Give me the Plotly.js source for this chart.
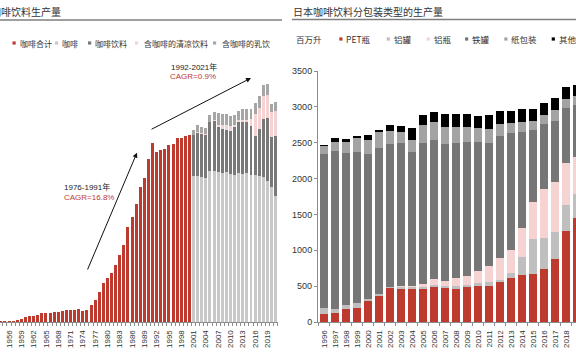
<!DOCTYPE html>
<html><head><meta charset="utf-8">
<script src="https://cdn.plot.ly/plotly-3.0.1.min.js"></script>
<style>html,body{margin:0;padding:0;background:#fff;overflow:hidden}#chart{width:576px;height:356px}</style>
</head><body><div id="chart"></div>
<script>
// ---- Left chart: 咖啡饮料生产量 ----
const totalYears = [1954,1955,1956,1957,1958,1959,1960,1961,1962,1963,1964,1965,1966,1967,1968,1969,1970,1971,1972,1973,1974,1975,1976,1977,1978,1979,1980,1981,1982,1983,1984,1985,1986,1987,1988,1989,1990,1991,1992,1993,1994,1995,1996,1997,1998,1999,2000];
const totalValues = [8,10,15,20,30,45,63,77,86,104,128,132,132,142,146,156,170,170,170,184,160,174,234,309,425,546,615,690,797,936,1075,1321,1460,1646,1878,2003,2273,2496,2365,2399,2407,2468,2477,2561,2561,2594,2602];
const stackYears = [2001,2002,2003,2004,2005,2006,2007,2008,2009,2010,2011,2012,2013,2014,2015,2016,2017,2018,2019,2020,2021];
const coffee = [2041,2030,2017,2005,2110,2100,2090,2080,2090,2065,2055,2075,2065,2075,2055,2055,2041,2017,1971,1880,1762];
const coffeeDrink = [571,605,604,603,673,707,624,611,592,603,659,708,718,708,685,543,650,814,869,704,828];
const coolDrink = [0,15,15,15,10,15,35,50,60,60,30,30,40,30,90,300,300,320,320,340,350];
const milkDrink = [69,101,87,82,97,101,160,159,158,149,146,129,142,157,145,155,155,153,153,116,122];
const leftNames = ['咖啡合计','咖啡','咖啡饮料','含咖啡的清凉饮料','含咖啡的乳饮'];

// ---- Right chart: 日本咖啡饮料分包装类型的生产量 (百万升) ----
const pkgYears = [1996,1997,1998,1999,2000,2001,2002,2003,2004,2005,2006,2007,2008,2009,2010,2011,2012,2013,2014,2015,2016,2017,2018,2019];
const pet = [116,130,176,190,288,362,469,455,455,460,483,469,455,483,506,501,562,613,650,669,734,873,1263,1444];
const alCan = [74,56,56,70,28,33,18,32,28,23,28,32,46,28,33,56,28,70,256,487,441,381,366,339];
const alBottle = [0,0,0,0,0,0,0,14,18,51,83,75,107,125,176,223,306,324,403,520,678,692,595,519];
const steelCan = [2155,2205,2126,2117,2033,2034,1993,1993,1867,1969,1941,1913,1890,1871,1797,1718,1695,1630,1342,999,905,863,762,721];
const paper = [111,121,159,182,186,218,190,153,167,241,247,232,228,219,195,200,167,135,140,130,130,149,130,135];
const other = [19,47,33,36,74,28,79,83,172,149,148,186,181,176,167,195,186,177,186,172,163,172,158,148];
const rightNames = ['PET瓶','铝罐','铝瓶','铁罐','纸包装','其他'];

const RED='#BE3A2E', LGRAY='#C8C8C8', DGRAY='#787878', PINK='#F4D3D2', MGRAY='#A6A6A6', BLACK='#000000';
const leftColors=[RED,LGRAY,DGRAY,PINK,MGRAY];
const rightColors=[RED,'#BFBFBF',PINK,'#767676','#A3A3A3',BLACK];

const FONT='Liberation Sans, Arial, Noto Sans CJK SC, sans-serif';
const CJK='Noto Sans CJK SC, sans-serif';

function bar(x,y,color,xa,ya,name,w){
  return {type:'bar',x:x,y:y,name:name,marker:{color:color,line:{width:0}},width:w,xaxis:xa,yaxis:ya,showlegend:false,hoverinfo:'skip'};
}
const traces=[
  bar(totalYears,totalValues,RED,'x','y',leftNames[0],0.72),
  bar(stackYears,coffee,LGRAY,'x','y',leftNames[1],0.72),
  bar(stackYears,coffeeDrink,DGRAY,'x','y',leftNames[2],0.72),
  bar(stackYears,coolDrink,PINK,'x','y',leftNames[3],0.72),
  bar(stackYears,milkDrink,MGRAY,'x','y',leftNames[4],0.72),
  bar(pkgYears,pet,rightColors[0],'x2','y2',rightNames[0],0.7),
  bar(pkgYears,alCan,rightColors[1],'x2','y2',rightNames[1],0.7),
  bar(pkgYears,alBottle,rightColors[2],'x2','y2',rightNames[2],0.7),
  bar(pkgYears,steelCan,rightColors[3],'x2','y2',rightNames[3],0.7),
  bar(pkgYears,paper,rightColors[4],'x2','y2',rightNames[4],0.7),
  bar(pkgYears,other,rightColors[5],'x2','y2',rightNames[5],0.7)
];

const PH=251, PB=322; // plot area pixel helpers for paper coords
const py=p=>(PB-p)/PH, px=p=>p/576;

const annotations=[
  {text:'咖啡饮料生产量',x:px(-11),y:py(11.5),xref:'paper',yref:'paper',xanchor:'left',yanchor:'middle',showarrow:false,font:{family:CJK,size:10,color:'#333'}},
  {text:'日本咖啡饮料分包装类型的生产量',x:px(291),y:py(11.5),xref:'paper',yref:'paper',xanchor:'left',yanchor:'middle',showarrow:false,font:{family:CJK,size:10,color:'#333'}},
  {text:'百万升',x:px(294),y:py(39),xref:'paper',yref:'paper',xanchor:'left',yanchor:'middle',showarrow:false,font:{family:CJK,size:8.5,color:'#333'}},
  {text:'1976-1991年',x:px(62),y:py(187),xref:'paper',yref:'paper',xanchor:'left',yanchor:'middle',showarrow:false,font:{family:FONT,size:8,color:'#222'}},
  {text:'CAGR=16.8%',x:px(62),y:py(197),xref:'paper',yref:'paper',xanchor:'left',yanchor:'middle',showarrow:false,font:{family:FONT,size:8,color:RED}},
  {text:'1992-2021年',x:px(169),y:py(67),xref:'paper',yref:'paper',xanchor:'left',yanchor:'middle',showarrow:false,font:{family:FONT,size:8,color:'#222'}},
  {text:'CAGR=0.9%',x:px(168),y:py(76),xref:'paper',yref:'paper',xanchor:'left',yanchor:'middle',showarrow:false,font:{family:FONT,size:8,color:RED}},
  {text:'',x:1987.2,y:2361,ax:1975.0,ay:711,xref:'x',yref:'y',axref:'x',ayref:'y',showarrow:true,arrowhead:2,arrowsize:1,arrowwidth:1,arrowcolor:'#111'},
  {text:'',x:2015.0,y:3402,ax:1990.4,ay:2677,xref:'x',yref:'y',axref:'x',ayref:'y',showarrow:true,arrowhead:2,arrowsize:1,arrowwidth:1,arrowcolor:'#111'}
];
const shapes=[
  {type:'line',xref:'paper',yref:'paper',x0:0,x1:px(282),y0:py(20),y1:py(20),line:{color:'#7F7F7F',width:1.6}},
  {type:'line',xref:'paper',yref:'paper',x0:px(292),x1:1,y0:py(19.5),y1:py(19.5),line:{color:'#7F7F7F',width:1.6}}
];
// legends (square glyph + label)
const leftLegend=[[12.5,18],[55,60],[88,93],[135,142],[213,220]];
leftLegend.forEach((p,i)=>{
  shapes.push({type:'rect',xref:'paper',yref:'paper',x0:px(p[0]),x1:px(p[0]+3.2),y0:py(44.6),y1:py(41.4),fillcolor:leftColors[i],line:{width:0}});
  annotations.push({text:leftNames[i],x:px(p[1]),y:py(43),xref:'paper',yref:'paper',xanchor:'left',yanchor:'middle',showarrow:false,font:{family:CJK,size:8,color:'#333'}});
});
const rightLegend=[[339.3,343.5],[386.7,391.5],[426.7,431.5],[465,470],[504.3,509],[551.7,556.5]];
rightLegend.forEach((p,i)=>{
  shapes.push({type:'rect',xref:'paper',yref:'paper',x0:px(p[0]),x1:px(p[0]+3.2),y0:py(40.6),y1:py(37.4),fillcolor:rightColors[i],line:{width:0}});
  annotations.push({text:rightNames[i],x:px(p[1]),y:py(39),xref:'paper',yref:'paper',xanchor:'left',yanchor:'middle',showarrow:false,font:{family:CJK,size:8.5,color:'#333'}});
});

const layout={
  width:576,height:356,margin:{l:0,r:0,t:71,b:34},
  paper_bgcolor:'#fff',plot_bgcolor:'#fff',barmode:'stack',bargap:0,showlegend:false,
  font:{family:FONT,size:8,color:'#333'},
  xaxis:{domain:[0,0.482],range:[1953.8,2021.5],tick0:1956,dtick:3,tickangle:-90,ticks:'',ticklabelstandoff:4,
    showline:true,linecolor:'#8C8C8C',linewidth:1,showgrid:false,zeroline:false,tickfont:{size:8,color:'#333'},
    minor:{ticks:'outside',ticklen:3,tickcolor:'#8C8C8C',dtick:1,tick0:0.5,showgrid:false}},
  yaxis:{domain:[0,1],range:[0,3500],visible:false,anchor:'x'},
  xaxis2:{domain:[0.552,1],range:[1995.45,2018.9],tick0:1996,dtick:1,tickangle:-90,ticks:'',ticklabelstandoff:4,anchor:'y2',
    showline:true,linecolor:'#8C8C8C',linewidth:1,showgrid:false,zeroline:false,tickfont:{size:8,color:'#333'},
    minor:{ticks:'outside',ticklen:3,tickcolor:'#8C8C8C',dtick:1,tick0:0.5,showgrid:false}},
  yaxis2:{domain:[0,1],range:[0,3500],anchor:'x2',dtick:500,tick0:0,showline:true,linecolor:'#8C8C8C',linewidth:1,
    ticks:'outside',ticklen:3,tickcolor:'#8C8C8C',showgrid:false,zeroline:false,tickfont:{size:9,color:'#333'}},
  annotations:annotations,shapes:shapes
};
Plotly.newPlot('chart',traces,layout,{staticPlot:true,displayModeBar:false});
</script></body></html>
